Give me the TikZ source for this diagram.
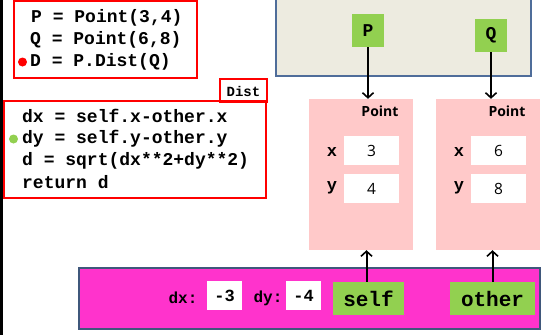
\documentclass[tikz,border=0pt]{standalone}
\usepackage{fontspec}
\usepackage{tikz}
\usetikzlibrary{arrows.meta}
\newfontfamily\codefont{Liberation Mono}
\newfontfamily\labelfont{Open Sans}
\definecolor{framebg}{HTML}{EDEBE0}
\definecolor{frameline}{HTML}{4F6D9A}
\definecolor{varbox}{HTML}{92D050}
\definecolor{objbg}{HTML}{FFC9C9}
\definecolor{callbg}{HTML}{FF33CC}
\definecolor{codered}{HTML}{FF0000}

\begin{document}
\begin{tikzpicture}[x=1pt,y=-1pt,
        code/.style={anchor=west,inner sep=0pt,font=\codefont\bfseries\fontsize{18}{20}\selectfont},
        codebox/.style={draw=codered,line width=2.5pt},
        var/.style={fill=varbox,inner sep=0pt,minimum height=33pt,font=\codefont\bfseries\fontsize{#1}{#1}\selectfont},
        var/.default=18,
        field/.style={inner sep=0pt,font=\codefont\bfseries\fontsize{17}{17}\selectfont},
        value/.style={fill=white,inner sep=0pt,minimum width=55pt,minimum height=29pt,font=\labelfont\fontsize{15.5}{16}\selectfont},
        small/.style={fill=white,inner sep=0pt,minimum width=35pt,minimum height=29pt,font=\codefont\bfseries\fontsize{17}{17}\selectfont},
        ptr/.style={line width=2pt,-{Straight Barb[length=5pt,width=11pt,line width=1.6pt]}}]
    \useasboundingbox (0,0) rectangle (557,335);
    \fill[black] (0,0) rectangle (3,335);
    % global frame and the two names in it
    \draw[fill=framebg,draw=frameline,line width=1.5pt] (276,-5) rectangle (531,76);
    \node[var,minimum width=32pt] (P) at (368,30.5) {P};
    \node[var,minimum width=32pt] (Q) at (491,35.5) {Q};
    % main program
    \draw[codebox] (14,1) rectangle (197,78);
    \node[code] (l1) at (31,18) {P = Point(3,4)};
    \node[code] (l2) at (30,40) {Q = Point(6,8)};
    \node[code] (l3) at (30,62) {D = P.Dist(Q)};
    \fill[codered] (22.5,62) circle[radius=4.5pt];
    % method body
    \draw[codebox] (220,79) rectangle (267,102);
    \node[inner sep=0pt,font=\codefont\bfseries\fontsize{14}{14}\selectfont] (dist) at (243.5,91) {Dist};
    \draw[codebox] (4,101) rectangle (266,198);
    \node[code] (m1) at (22,116) {dx = self.x-other.x};
    \node[code] (m2) at (22,139) {dy = self.y-other.y};
    \node[code] (m3) at (22,161) {d = sqrt(dx**2+dy**2)};
    \node[code] (m4) at (22,182) {return d};
    \fill[varbox] (13.5,139) circle[radius=4.5pt];
    % the two Point objects
    \foreach \name/\cx/\vx/\vy in {objP/361/3/4,objQ/488/6/8} {
        \node[fill=objbg,minimum width=104pt,minimum height=151pt,inner sep=0pt] (\name) at (\cx,174.5) {};
        \node[inner sep=0pt,font=\labelfont\bfseries\fontsize{14}{14}\selectfont] at (\cx+19,111) {Point};
        \node[field] at (\cx-29,152) {x};
        \node[field] at (\cx-29,188) {y};
        \node[value] at (\cx+10.5,150.5) {\vx};
        \node[value] at (\cx+10.5,188.5) {\vy};
    }
    % call frame of Dist
    \draw[fill=callbg,draw=frameline!80!black,line width=1.5pt] (79,268) rectangle (540,329);
    \node[inner sep=0pt,font=\codefont\bfseries\fontsize{16}{16}\selectfont] (dxl) at (183,298) {dx:};
    \node[small] (dxv) at (224.5,295.5) {-3};
    \node[inner sep=0pt,font=\codefont\bfseries\fontsize{16}{16}\selectfont] (dyl) at (268,298) {dy:};
    \node[small] (dyv) at (303.5,295.5) {-4};
    \node[var=21,minimum width=71pt] (self) at (368.5,298.5) {self};
    \node[var=21,minimum width=85pt] (other) at (492.5,298.5) {other};
    % references
    \draw[ptr] (P.south) -- (P.south |- objP.north);
    \draw[ptr] (Q.south) -- (Q.south |- objQ.north);
    \draw[ptr] ([xshift=-2pt]self.north) -- ([xshift=-2pt]self.north |- objP.south);
    \draw[ptr] (other.north) -- (other.north |- objQ.south);
\end{tikzpicture}
\end{document}
